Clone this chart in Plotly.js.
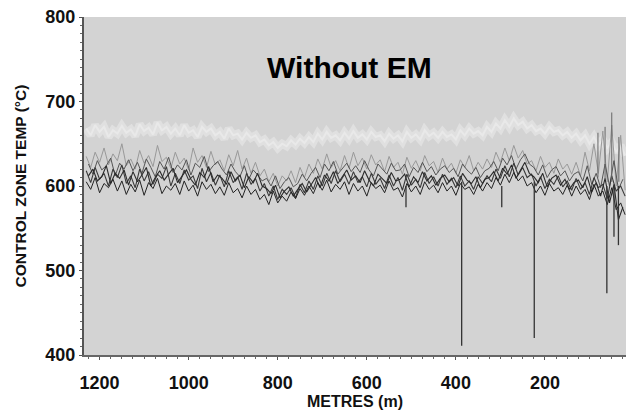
<!DOCTYPE html>
<html>
<head>
<meta charset="utf-8">
<script src="https://cdn.plot.ly/plotly-3.0.1.min.js"></script>
<style>html,body{margin:0;padding:0;background:#fff;}#chart{width:628px;height:411px;}</style>
</head>
<body>
<div id="chart"></div>
<script>
// distance positions (m): 1230..20 and 1225..25, both in 10 m steps
var metres = [];
for (var m = 1230; m >= 20; m -= 10) metres.push(m);
var metresOffset = [];
for (var k = 1225; k >= 25; k -= 10) metresOffset.push(k);

var seriesA = [
618,604,622,608,615,600,620,610,625,603,
612,598,620,606,617,602,614,609,623,600,
615,603,619,607,612,597,621,605,616,601,
613,599,618,604,611,596,615,602,609,594,
603,588,600,584,596,590,598,586,602,592,
606,596,612,600,615,603,618,605,614,602,
617,604,611,599,615,602,609,597,613,600,
610,595,614,601,608,598,616,603,611,600,
614,602,609,598,612,600,606,596,611,603,
612,605,620,609,624,611,627,613,622,610,
614,600,611,597,608,602,612,599,606,595,
609,596,604,590,610,598,602,585,612,594,
600,588];

var seriesB = [
605,596,610,592,603,598,608,594,606,590,
602,593,607,589,604,597,609,591,600,595,
603,590,606,594,601,588,605,596,602,591,
599,589,604,592,597,586,600,590,596,584,
590,578,594,580,588,582,593,585,597,589,
600,591,604,595,607,593,602,596,605,590,
603,594,600,588,604,597,601,592,606,595,
598,587,603,593,600,590,605,596,601,592,
604,594,600,589,603,596,599,590,602,594,
604,597,610,601,614,604,616,606,612,600,
604,592,600,589,603,594,598,590,601,588,
600,590,596,584,602,588,594,578,598,572,
580,566];

var seriesC = [
635,622,640,628,645,625,638,630,650,624,
632,620,642,627,636,623,648,629,634,621,
640,626,633,619,645,628,636,622,641,625,
631,618,637,624,642,620,633,615,628,612,
620,605,615,600,612,606,618,604,622,610,
626,615,632,620,638,622,630,618,636,621,
640,624,633,620,637,625,631,617,635,622,
628,614,634,621,630,618,636,624,629,616,
633,620,627,615,631,622,636,618,628,620,
632,622,640,628,645,630,648,633,642,626,
630,618,635,622,628,615,632,620,626,614,
628,612,640,618,650,615,665,605,672,600,
660,595];

var seriesD = [
668,660,672,664,670,658,666,662,671,663,
667,659,673,665,669,661,675,666,670,662,
668,660,672,663,666,658,670,664,668,660,
664,656,668,660,662,655,663,657,660,652,
655,648,652,645,650,647,654,649,656,651,
658,652,662,655,664,657,660,654,663,656,
665,657,661,655,664,658,660,653,662,656,
660,653,664,657,661,655,666,659,663,657,
664,658,661,655,666,660,668,662,665,660,
670,664,674,668,678,670,680,672,676,668,
672,665,668,662,670,664,666,660,664,657,
662,654,660,650,658,648,655,645,652,640,
648,636];

var seriesE = [
612,620,606,611,624,603,615,609,619,601,
617,605,613,622,600,610,618,607,614,621,
604,612,619,608,601,616,610,623,605,613,
609,602,617,606,613,598,611,604,615,600,
597,591,601,586,594,599,588,596,603,593,
602,610,598,613,606,617,603,611,619,607,
612,604,618,607,600,614,609,603,616,606,
608,614,599,611,604,617,606,612,601,609,
613,605,610,600,615,607,603,611,598,608,
610,617,606,621,614,625,609,619,628,615,
611,604,615,599,609,613,601,608,596,604,
607,598,611,593,604,588,609,580,602,560,
575];

var seriesF = [
626,614,630,619,624,633,612,627,620,631,
618,628,615,632,622,611,629,620,634,616,
625,619,631,613,627,622,635,617,624,629,
620,613,626,617,611,624,608,619,613,606,
609,600,612,597,605,610,599,603,614,606,
615,622,610,626,618,629,614,621,627,617,
624,616,630,619,612,626,620,614,627,618,
619,626,611,622,616,628,617,623,613,620,
624,616,621,611,626,619,614,622,610,618,
621,629,618,633,625,636,620,631,638,626,
622,613,625,610,619,623,612,618,606,614,
617,606,624,602,615,598,626,600,630,596,
608];

// dropout spikes
var spikeX    = [387, 512, 297, 224, 61, 45, 35, 16];
var spikeTop  = [605, 600, 600, 605, 600, 600, 600, 598];
var spikeLow  = [411, 575, 575, 420, 473, 540, 530, 430];
// upward spikes near the end
var upX    = [81, 65, 50, 34];
var upBase = [610, 608, 605, 605];
var upHigh = [663, 670, 687, 658];

var xTicks = [1200, 1000, 800, 600, 400, 200];
var yTicks = [400, 500, 600, 700, 800];

function segs(xs, a, b) {
  var X = [], Y = [];
  for (var i = 0; i < xs.length; i++) { X.push(xs[i], xs[i], null); Y.push(a[i], b[i], null); }
  return {x: X, y: Y};
}
var sp = segs(spikeX, spikeTop, spikeLow);
var up = segs(upX, upBase, upHigh);

var traces = [
  {x: metres, y: seriesD, mode: 'lines', line: {color: 'rgba(226,226,226,0.85)', width: 8}, hoverinfo: 'skip'},
  {x: metres, y: seriesD, mode: 'lines', line: {color: '#e9e9e9', width: 2}, hoverinfo: 'skip'},
  {x: metres, y: seriesC, mode: 'lines', line: {color: '#999999', width: 1}, hoverinfo: 'skip'},
  {x: metresOffset, y: seriesF, mode: 'lines', line: {color: '#555555', width: 1}, hoverinfo: 'skip'},
  {x: metres, y: seriesA, mode: 'lines', line: {color: '#3a3a3a', width: 1.1}, hoverinfo: 'skip'},
  {x: metresOffset, y: seriesE, mode: 'lines', line: {color: '#2a2a2a', width: 1.1}, hoverinfo: 'skip'},
  {x: metres, y: seriesB, mode: 'lines', line: {color: '#222222', width: 1}, hoverinfo: 'skip'},
  {x: up.x, y: up.y, mode: 'lines', line: {color: '#666', width: 1}, hoverinfo: 'skip'},
  {x: sp.x, y: sp.y, mode: 'lines', line: {color: '#333', width: 1.3}, hoverinfo: 'skip'}
];

var font = 'Liberation Sans, Arial, sans-serif';
var layout = {
  width: 628, height: 411,
  margin: {l: 84, r: 2, t: 17, b: 56},
  paper_bgcolor: '#ffffff',
  plot_bgcolor: '#d3d3d3',
  showlegend: false,
  xaxis: {
    range: [1235, 18],
    tickvals: xTicks,
    ticktext: xTicks.map(String),
    showgrid: false, zeroline: false,
    showline: true, linecolor: '#666', linewidth: 1.5,
    ticks: 'outside', ticklen: 3, tickcolor: '#555',
    minor: {dtick: 25, ticks: 'outside', ticklen: 2, tickcolor: '#666', showgrid: false},
    ticklabelstandoff: 8,
    tickfont: {family: font, size: 18, color: '#111', weight: 'bold'},
    title: {text: '<b>METRES (m)</b>', font: {family: font, size: 16, color: '#111'}, standoff: 3}
  },
  yaxis: {
    range: [400, 800],
    tickvals: yTicks,
    showgrid: false, zeroline: false,
    showline: true, linecolor: '#555', linewidth: 2,
    ticks: 'outside', ticklen: 3, tickcolor: '#555',
    minor: {dtick: 10, ticks: 'outside', ticklen: 2, tickcolor: '#666', showgrid: false},
    tickfont: {family: font, size: 18, color: '#111', weight: 'bold'},
    title: {text: '<b>CONTROL ZONE TEMP (°C)</b>', font: {family: font, size: 15.5, color: '#111'}, standoff: 15}
  },
  annotations: [{
    xref: 'paper', yref: 'paper', x: 0.49, y: 0.85, xanchor: 'center', yanchor: 'middle',
    text: '<b>Without EM</b>', showarrow: false,
    font: {family: font, size: 30, color: '#000'}
  }]
};

Plotly.newPlot('chart', traces, layout, {displayModeBar: false, staticPlot: true});
</script>
</body>
</html>
